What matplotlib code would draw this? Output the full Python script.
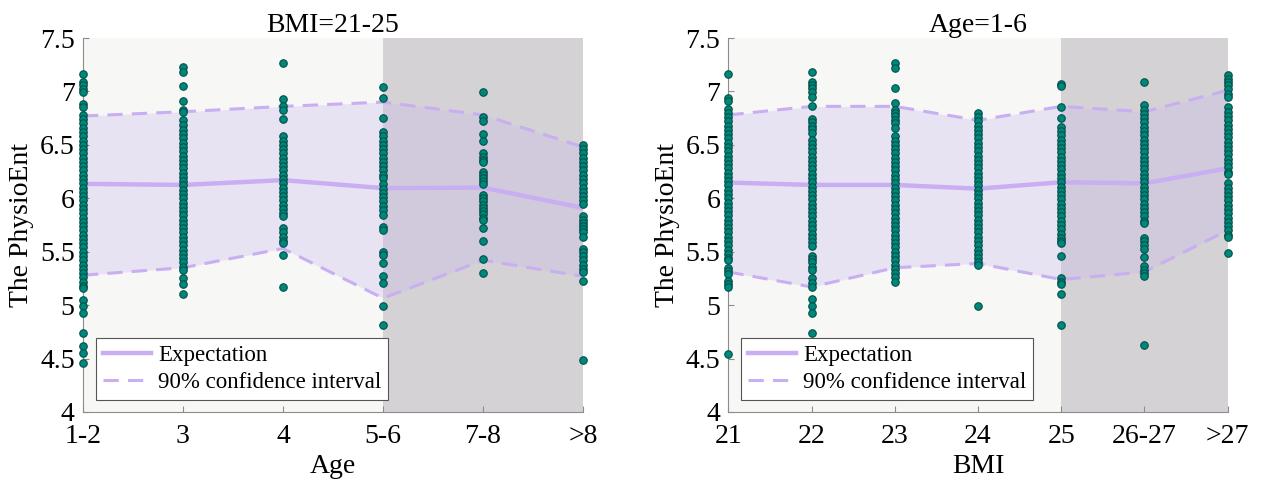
import matplotlib
matplotlib.use("Agg")
import matplotlib.pyplot as plt

plt.rcParams['font.family'] = ['Liberation Serif', 'DejaVu Serif']
plt.rcParams['mathtext.fontset'] = 'stix'

# =========================
# Data
# =========================
age_labels = ["1-2", "3", "4", "5-6", "7-8", ">8"]
age_expect = [6.135, 6.125, 6.17, 6.095, 6.10, 5.91]
age_upper = [6.77, 6.81, 6.86, 6.90, 6.78, 6.48]
age_lower = [5.28, 5.35, 5.53, 5.065, 5.42, 5.27]
age_points = [
    [7.16, 7.09, 7.06, 7.02, 6.99, 6.88, 6.85, 6.78, 6.74, 6.70, 6.66, 6.62, 6.58,
     6.54, 6.50, 6.46, 6.42, 6.38, 6.34, 6.30, 6.26, 6.22, 6.18, 6.14, 6.10, 6.06,
     6.02, 5.98, 5.94, 5.90, 5.86, 5.82, 5.78, 5.74, 5.70, 5.66, 5.62, 5.58, 5.54,
     5.50, 5.46, 5.42, 5.38, 5.34, 5.30, 5.26, 5.22, 5.18, 5.16, 5.05, 4.99, 4.93,
     4.74, 4.62, 4.55, 4.46],
    [7.23, 7.18, 7.05, 6.91, 6.83, 6.81, 6.73, 6.69, 6.64, 6.60, 6.56, 6.52, 6.48,
     6.44, 6.40, 6.36, 6.32, 6.28, 6.24, 6.20, 6.16, 6.12, 6.08, 6.04, 6.00, 5.96,
     5.92, 5.88, 5.84, 5.80, 5.76, 5.72, 5.68, 5.64, 5.60, 5.56, 5.52, 5.48, 5.44,
     5.40, 5.36, 5.33, 5.25, 5.20, 5.10],
    [7.27, 6.93, 6.86, 6.83, 6.74, 6.58, 6.54, 6.50, 6.46, 6.42, 6.38, 6.34, 6.30,
     6.26, 6.22, 6.18, 6.14, 6.10, 6.06, 6.02, 5.98, 5.94, 5.90, 5.86, 5.83, 5.72,
     5.68, 5.64, 5.60, 5.58, 5.47, 5.17],
    [7.04, 6.94, 6.75, 6.62, 6.58, 6.54, 6.50, 6.46, 6.42, 6.38, 6.34, 6.30, 6.26,
     6.22, 6.19, 6.13, 6.09, 6.05, 6.01, 5.97, 5.93, 5.89, 5.84, 5.73, 5.70, 5.50,
     5.47, 5.39, 5.27, 5.21, 4.99, 4.81],
    [6.99, 6.76, 6.72, 6.60, 6.54, 6.42, 6.39, 6.36, 6.34, 6.25, 6.22, 6.19, 6.16,
     6.13, 6.03, 6.00, 5.97, 5.94, 5.91, 5.88, 5.85, 5.82, 5.80, 5.72, 5.60, 5.43,
     5.30],
    [6.50, 6.46, 6.42, 6.38, 6.34, 6.30, 6.26, 6.22, 6.18, 6.14, 6.10, 6.06, 6.02,
     5.98, 5.95, 5.83, 5.80, 5.77, 5.74, 5.71, 5.68, 5.64, 5.53, 5.50, 5.46, 5.42,
     5.38, 5.34, 5.31, 5.23, 4.49],
]

bmi_labels = ["21", "22", "23", "24", "25", "26-27", ">27"]
bmi_expect = [6.147, 6.125, 6.125, 6.09, 6.15, 6.14, 6.28]
bmi_upper = [6.78, 6.86, 6.86, 6.73, 6.86, 6.81, 7.01]
bmi_lower = [5.31, 5.17, 5.35, 5.39, 5.24, 5.31, 5.70]
bmi_points = [
    [7.16, 6.94, 6.91, 6.84, 6.80, 6.76, 6.72, 6.68, 6.64, 6.60, 6.56, 6.52, 6.48,
     6.44, 6.40, 6.36, 6.32, 6.28, 6.24, 6.20, 6.16, 6.12, 6.08, 6.04, 6.00, 5.96,
     5.92, 5.88, 5.84, 5.80, 5.76, 5.72, 5.68, 5.64, 5.60, 5.56, 5.52, 5.48, 5.44,
     5.42, 5.35, 5.32, 5.29, 5.23, 5.20, 5.17, 4.545],
    [7.18, 7.09, 7.06, 7.03, 6.99, 6.95, 6.86, 6.74, 6.71, 6.68, 6.65, 6.61, 6.55,
     6.51, 6.47, 6.43, 6.39, 6.35, 6.31, 6.27, 6.23, 6.19, 6.15, 6.11, 6.07, 6.03,
     5.99, 5.95, 5.91, 5.87, 5.83, 5.79, 5.75, 5.71, 5.67, 5.63, 5.59, 5.55, 5.46,
     5.43, 5.40, 5.36, 5.33, 5.25, 5.21, 5.17, 5.06, 4.99, 4.93, 4.74],
    [7.27, 7.22, 7.03, 6.89, 6.83, 6.80, 6.77, 6.73, 6.70, 6.66, 6.58, 6.54, 6.50,
     6.46, 6.42, 6.38, 6.34, 6.30, 6.26, 6.22, 6.18, 6.14, 6.10, 6.06, 6.02, 5.98,
     5.94, 5.90, 5.86, 5.82, 5.78, 5.74, 5.70, 5.66, 5.62, 5.58, 5.54, 5.50, 5.46,
     5.42, 5.38, 5.34, 5.30, 5.26, 5.22],
    [6.80, 6.76, 6.72, 6.68, 6.64, 6.60, 6.56, 6.52, 6.48, 6.44, 6.40, 6.36, 6.32,
     6.28, 6.24, 6.20, 6.16, 6.12, 6.08, 6.04, 6.00, 5.96, 5.92, 5.88, 5.84, 5.80,
     5.76, 5.72, 5.68, 5.64, 5.60, 5.56, 5.52, 5.48, 5.44, 5.40, 5.38, 4.99],
    [7.07, 7.05, 6.85, 6.75, 6.67, 6.63, 6.59, 6.55, 6.51, 6.47, 6.43, 6.39, 6.35,
     6.31, 6.27, 6.23, 6.19, 6.15, 6.11, 6.07, 6.03, 5.99, 5.95, 5.91, 5.87, 5.83,
     5.79, 5.75, 5.71, 5.67, 5.63, 5.60, 5.58, 5.46, 5.25, 5.22, 5.20, 5.10, 4.81],
    [7.09, 6.87, 6.83, 6.79, 6.75, 6.71, 6.67, 6.63, 6.59, 6.55, 6.51, 6.47, 6.43,
     6.39, 6.35, 6.31, 6.27, 6.23, 6.19, 6.15, 6.11, 6.07, 6.03, 5.99, 5.95, 5.91,
     5.87, 5.83, 5.79, 5.77, 5.63, 5.60, 5.56, 5.53, 5.45, 5.37, 5.33, 5.30, 5.27,
     4.63],
    [7.15, 7.12, 7.09, 7.06, 7.02, 6.98, 6.95, 6.85, 6.81, 6.77, 6.73, 6.69, 6.65,
     6.61, 6.57, 6.53, 6.49, 6.45, 6.41, 6.37, 6.33, 6.29, 6.25, 6.23, 6.14, 6.10,
     6.06, 6.02, 5.98, 5.94, 5.90, 5.86, 5.82, 5.78, 5.74, 5.70, 5.66, 5.64, 5.49],
]

# styles
LIGHT_BG = "#f7f7f5"
DARK_BG = "#d4d2d4"
LINE_C = "#c9aef2"
FILL_C = "#c8b8f0"
DOT_FACE = "#00877c"
DOT_EDGE = "#005048"
AX_C = "#8c8c8c"
FS = 20


def draw_panel(ax, labels, points, expect, upper, lower, dark_from, title, xlabel):
    n = len(labels)
    x = list(range(n))
    ax.axvspan(0, dark_from, color=LIGHT_BG, zorder=0, lw=0)
    ax.axvspan(dark_from, n - 1, color=DARK_BG, zorder=0, lw=0)

    ax.fill_between(x, lower, upper, color=FILL_C, alpha=0.3, lw=0, zorder=1)

    for i, pts in enumerate(points):
        ax.plot([i] * len(pts), pts, 'o', ms=5.4, mfc=DOT_FACE, mec=DOT_EDGE,
                mew=0.8, zorder=3, clip_on=False)

    ax.plot(x, expect, '-', color=LINE_C, lw=3.2, zorder=2, label="Expectation")
    ax.plot(x, upper, '--', color=LINE_C, lw=2.2, dashes=(5, 3), zorder=2,
            label="90% confidence interval")
    ax.plot(x, lower, '--', color=LINE_C, lw=2.2, dashes=(5, 3), zorder=2)

    ax.set_xlim(0, n - 1)
    ax.set_ylim(4, 7.5)
    ax.set_xticks(x)
    ax.set_xticklabels(labels)
    ax.set_yticks([4, 4.5, 5, 5.5, 6, 6.5, 7, 7.5])
    ax.set_yticklabels(["4", "4.5", "5", "5.5", "6", "6.5", "7", "7.5"])
    ax.tick_params(direction='in', length=4, color=AX_C, labelsize=FS)
    ax.tick_params(axis='x', pad=9)
    ax.tick_params(axis='y', pad=6)

    for s in ["top", "right"]:
        ax.spines[s].set_visible(False)
    for s in ["left", "bottom"]:
        ax.spines[s].set_color(AX_C)
        ax.spines[s].set_linewidth(0.8)

    ax.set_title(title, fontsize=FS, pad=2)
    ax.set_xlabel(xlabel, fontsize=FS, labelpad=3)
    ax.set_ylabel("The PhysioEnt", fontsize=FS, labelpad=4)

    leg = ax.legend(loc='lower left', bbox_to_anchor=(0.026, 0.032),
                    borderaxespad=0, fontsize=16.5, fancybox=False,
                    framealpha=1, edgecolor="#555555", handlelength=2.1,
                    handletextpad=0.3, borderpad=0.3, labelspacing=0.25)
    leg.get_frame().set_linewidth(0.8)


def main():
    fig = plt.figure(figsize=(12.63, 4.86), dpi=100)
    ax1 = fig.add_axes([0.0657, 0.1523, 0.3959, 0.7695])
    ax2 = fig.add_axes([0.5768, 0.1523, 0.3951, 0.7695])

    draw_panel(ax1, age_labels, age_points, age_expect, age_upper, age_lower,
               3, "BMI=21-25", "Age")
    draw_panel(ax2, bmi_labels, bmi_points, bmi_expect, bmi_upper, bmi_lower,
               4, "Age=1-6", "BMI")

    fig.savefig("out.png", dpi=100)
    plt.close(fig)


if __name__ == "__main__":
    main()
